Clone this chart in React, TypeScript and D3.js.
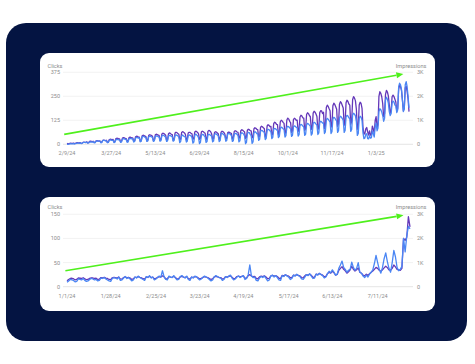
import React from 'react';
import * as d3 from 'd3';

// ---- top panel: 2/9/24 .. 2/7/25, one value per day ----
const topStart = '2024-02-09';
const topClicks = [
  0, 0, 1, 2, 3, 2, 2,
  4, 2, 3, 5, 6, 6, 5,
  8, 4, 5, 9, 10, 10, 9,
  11, 6, 7, 12, 13, 12, 11,
  14, 7, 9, 17, 18, 17, 16,
  17, 8, 9, 19, 21, 20, 18,
  18, 8, 10, 21, 23, 22, 20,
  21, 9, 11, 24, 26, 25, 23,
  23, 10, 12, 27, 29, 28, 26,
  25, 10, 12, 29, 31, 30, 28,
  29, 12, 15, 33, 36, 35, 32,
  33, 13, 16, 39, 42, 40, 37,
  34, 15, 18, 39, 42, 41, 38,
  36, 15, 19, 41, 44, 43, 40,
  38, 16, 19, 44, 47, 46, 42,
  37, 15, 18, 43, 47, 45, 42,
  39, 16, 20, 46, 49, 47, 44,
  37, 9, 15, 44, 49, 43, 40,
  38, 12, 16, 45, 49, 47, 44,
  36, 6, 12, 47, 53, 49, 44,
  35, 4, 10, 46, 51, 52, 44,
  39, 10, 14, 48, 52, 50, 46,
  42, 13, 17, 51, 55, 53, 49,
  43, 14, 19, 55, 58, 54, 49,
  44, 16, 20, 53, 57, 55, 51,
  45, 15, 19, 53, 57, 56, 51,
  46, 13, 18, 55, 60, 58, 53,
  44, 3, 10, 56, 62, 61, 52,
  46, 5, 12, 60, 66, 63, 55,
  57, 20, 26, 68, 73, 71, 65,
  62, 25, 31, 73, 78, 76, 70,
  67, 30, 36, 78, 83, 81, 75,
  73, 35, 41, 84, 89, 87, 81,
  77, 38, 45, 89, 94, 91, 86,
  80, 41, 47, 91, 96, 94, 88,
  86, 43, 50, 98, 104, 101, 95,
  90, 46, 53, 103, 109, 106, 100,
  95, 48, 56, 109, 115, 112, 105,
  100, 51, 59, 113, 120, 117, 110,
  111, 56, 65, 127, 135, 131, 123,
  115, 56, 66, 132, 141, 137, 128,
  121, 62, 71, 138, 146, 142, 134,
  124, 62, 72, 142, 151, 147, 138,
  133, 67, 77, 153, 162, 157, 148,
  117, 46, 56, 136, 146, 141, 125,
  60, 30, 32, 52, 55, 30, 28,
  45, 32, 35, 70, 55, 38, 90,
  110, 70, 85, 170, 185, 180, 168,
  150, 120, 135, 230, 245, 235, 215,
  170, 150, 160, 215, 225, 220, 205,
  200, 165, 180, 300, 318, 310, 285,
  230, 170, 185, 310, 326, 300, 250,
  190,
];
const topImpressions = [
  35, 19, 22, 39, 43, 41, 37,
  52, 31, 35, 60, 65, 61, 57,
  70, 40, 45, 80, 86, 82, 76,
  104, 60, 68, 118, 127, 121, 112,
  125, 80, 88, 140, 149, 143, 134,
  140, 81, 92, 160, 170, 163, 152,
  170, 80, 95, 196, 210, 203, 188,
  205, 100, 118, 238, 252, 244, 226,
  222, 102, 120, 258, 274, 265, 245,
  240, 122, 142, 278, 295, 285, 266,
  270, 121, 146, 315, 336, 325, 300,
  300, 123, 150, 352, 378, 366, 338,
  320, 143, 170, 372, 398, 386, 360,
  335, 144, 172, 392, 420, 407, 378,
  370, 165, 196, 430, 461, 447, 415,
  380, 160, 190, 440, 475, 455, 420,
  400, 165, 200, 468, 503, 487, 452,
  420, 185, 220, 490, 524, 508, 472,
  410, 180, 212, 470, 500, 495, 462,
  440, 205, 240, 510, 545, 528, 492,
  438, 206, 238, 508, 543, 527, 490,
  460, 200, 238, 540, 580, 560, 515,
  425, 206, 237, 490, 523, 508, 475,
  440, 205, 240, 508, 544, 528, 491,
  425, 222, 250, 480, 510, 498, 470,
  460, 227, 262, 530, 565, 548, 512,
  495, 247, 285, 568, 607, 588, 550,
  510, 248, 288, 588, 627, 608, 568,
  560, 268, 312, 646, 690, 670, 625,
  610, 290, 338, 705, 752, 730, 682,
  660, 310, 362, 763, 815, 790, 738,
  750, 372, 430, 862, 920, 892, 835,
  822, 414, 475, 940, 1003, 972, 912,
  870, 450, 505, 1010, 1090, 1050, 960,
  905, 497, 558, 1025, 1086, 1055, 995,
  1005, 538, 608, 1140, 1212, 1176, 1105,
  1090, 580, 655, 1240, 1316, 1278, 1200,
  1148, 620, 700, 1300, 1378, 1340, 1262,
  1160, 610, 690, 1320, 1400, 1390, 1280,
  1335, 663, 760, 1530, 1628, 1580, 1480,
  1400, 705, 808, 1608, 1712, 1660, 1560,
  1460, 746, 852, 1670, 1775, 1722, 1618,
  1515, 788, 896, 1730, 1836, 1784, 1678,
  1630, 830, 945, 1865, 1983, 1925, 1808,
  1450, 622, 735, 1640, 1752, 1700, 1500,
  720, 420, 450, 640, 700, 520, 380,
  560, 380, 420, 760, 640, 450, 1000,
  1150, 700, 820, 2000, 2190, 2120, 1980,
  1700, 1150, 1280, 2080, 2250, 2180, 2020,
  1650, 1300, 1400, 1980, 2050, 1990, 1880,
  1750, 1380, 1500, 2300, 2450, 2400, 2250,
  1850, 1400, 1520, 2350, 2420, 2200, 1900,
  1360,
];
const topDateTicks = ['2/9/24', '3/27/24', '5/13/24', '6/29/24', '8/15/24', '10/1/24', '11/17/24', '1/3/25'];
const topClickTicks = [0, 125, 250, 375];
const topArrow = [{ date: '2024-02-06', clicks: 52 }, { date: '2025-02-01', clicks: 366 }];

// ---- bottom panel: 1/1/24 .. 7/31/24 ----
const bottomStart = '2024-01-01';
const bottomClicks = [
  9, 12, 15, 14, 13, 10, 11,
  16, 15, 14, 17, 13, 11, 12,
  15, 17, 16, 14, 15, 12, 13,
  18, 17, 19, 16, 14, 12, 11,
  17, 19, 18, 16, 20, 13, 14,
  18, 21, 17, 19, 16, 12, 14,
  20, 18, 22, 19, 17, 15, 13,
  21, 19, 23, 18, 20, 14, 16,
  19, 22, 20, 33, 21, 15, 14,
  22, 20, 19, 23, 18, 14, 15,
  21, 23, 20, 18, 22, 15, 13,
  20, 18, 22, 21, 17, 14, 16,
  19, 22, 20, 18, 15, 12, 14,
  20, 23, 21, 19, 18, 13, 15,
  21, 19, 22, 24, 18, 14, 16,
  20, 22, 19, 21, 23, 15, 17,
  25, 45, 22, 19, 20, 13, 12,
  18, 21, 19, 22, 17, 12, 14,
  22, 24, 20, 23, 19, 14, 13,
  23, 21, 25, 22, 20, 15, 17,
  24, 22, 26, 23, 21, 16, 15,
  20, 25, 23, 27, 22, 17, 18,
  26, 24, 28, 25, 23, 18, 20,
  27, 32, 29, 35, 30, 24, 26,
  38, 45, 53, 40, 36, 30, 34,
  36, 51, 40, 34, 38, 50, 30,
  28, 22, 19, 24, 20, 26, 30,
  35, 48, 65, 50, 36, 28, 40,
  58, 70, 52, 38, 30, 50, 75,
  62, 40, 33, 36, 42, 100, 72,
  105, 125, 120,
];
const bottomImpressions = [
  250, 300, 340, 350, 330, 280, 300,
  360, 350, 340, 370, 330, 290, 300,
  350, 370, 360, 340, 350, 300, 310,
  380, 370, 390, 360, 340, 300, 290,
  370, 390, 380, 360, 400, 310, 320,
  380, 410, 370, 390, 360, 300, 320,
  400, 380, 420, 390, 370, 330, 310,
  410, 390, 430, 380, 400, 320, 340,
  390, 420, 400, 450, 410, 330, 320,
  420, 400, 390, 430, 380, 320, 330,
  410, 430, 400, 380, 420, 330, 310,
  400, 380, 420, 410, 370, 320, 340,
  390, 420, 400, 380, 340, 300, 320,
  410, 430, 410, 390, 380, 310, 330,
  420, 400, 430, 450, 390, 330, 350,
  420, 440, 410, 430, 450, 350, 370,
  460, 500, 440, 420, 430, 340, 330,
  410, 440, 420, 450, 400, 330, 350,
  450, 470, 440, 460, 420, 350, 340,
  470, 450, 490, 460, 440, 370, 390,
  480, 460, 500, 470, 450, 380, 370,
  450, 500, 480, 520, 470, 390, 400,
  520, 500, 540, 510, 480, 410, 430,
  540, 600, 560, 640, 580, 480, 510,
  680, 760, 830, 720, 660, 560, 620,
  700, 850, 720, 650, 700, 780, 600,
  560, 480, 450, 520, 470, 540, 600,
  650, 720, 800, 760, 680, 640, 700,
  780, 850, 790, 700, 680, 760, 900,
  820, 720, 700, 680, 760, 2000, 1920,
  2050, 2900, 2480,
];
const bottomDateTicks = ['1/1/24', '1/28/24', '2/25/24', '3/23/24', '4/19/24', '5/17/24', '6/13/24', '7/11/24'];
const bottomClickTicks = [0, 50, 100, 150];
const bottomArrow = [{ date: '2023-12-31', clicks: 33 }, { date: '2024-07-27', clicks: 148 }];

const impressionTicks = [0, 1000, 2000, 3000];
const impressionLabels = ['0', '1K', '2K', '3K'];

const parseDay = d3.timeParse('%Y-%m-%d');
const parseTick = d3.timeParse('%m/%d/%y');

const NAVY = '#041442';
const GREEN = '#4ff01c';
const BLUE = '#4a86f4';
const PURPLE = '#6437b9';
const GREY = '#8c8c8c';
const FONT = 'Roboto, "Noto Sans", sans-serif';

interface PanelProps {
  cardY: number;
  top: number;
  bottom: number;
  dataRight: number;
  titleY: number;
  xLabelY: number;
  start: string;
  clicks: number[];
  impressions: number[];
  clickTicks: number[];
  dateTicks: string[];
  arrow: { date: string; clicks: number }[];
}

const Panel: React.FC<PanelProps> = (p) => {
  const t0 = parseDay(p.start) as Date;
  const dates = p.clicks.map((_, i) => d3.timeDay.offset(t0, i));
  const x = d3.scaleTime().domain([t0, dates[dates.length - 1]]).range([67, p.dataRight]);
  const clickMax = p.clickTicks[p.clickTicks.length - 1];
  const yC = d3.scaleLinear().domain([0, clickMax]).range([p.bottom, p.top]);
  const yI = d3.scaleLinear().domain([0, 3000]).range([p.bottom, p.top]);

  const clickLine = d3.line<number>().x((_, i) => x(dates[i])).y((d) => yC(d));
  const imprLine = d3.line<number>().x((_, i) => x(dates[i])).y((d) => yI(d));

  // arrow in data coordinates
  const ax0 = x(parseDay(p.arrow[0].date) as Date);
  const ay0 = yC(p.arrow[0].clicks);
  const ax1 = x(parseDay(p.arrow[1].date) as Date);
  const ay1 = yC(p.arrow[1].clicks);
  const ang = Math.atan2(ay1 - ay0, ax1 - ax0);
  const headLen = 7;
  const headW = 3;
  const bx = ax1 - headLen * Math.cos(ang);
  const by = ay1 - headLen * Math.sin(ang);
  const head = [
    [ax1, ay1],
    [bx + headW * Math.sin(ang), by - headW * Math.cos(ang)],
    [bx - headW * Math.sin(ang), by + headW * Math.cos(ang)],
  ].map((q) => q.join(',')).join(' ');

  return (
    <g>
      <rect x={40} y={p.cardY} width={395} height={114} rx={9} fill="#fff" />
      <text x={47.5} y={p.titleY} fontSize={5.6} fill={GREY}>Clicks</text>
      <text x={426.5} y={p.titleY} fontSize={5.6} fill={GREY} textAnchor="end">Impressions</text>
      {p.clickTicks.map((t, i) => (
        <g key={t}>
          <line x1={63} x2={413} y1={yC(t)} y2={yC(t)} stroke={t === 0 ? '#dedede' : '#efefef'} strokeWidth={0.8} />
          <text x={60} y={yC(t) + 2} fontSize={5.5} fill={GREY} textAnchor="end">{t}</text>
          <text x={417} y={yI(impressionTicks[i]) + 2} fontSize={5.5} fill={GREY}>{impressionLabels[i]}</text>
        </g>
      ))}
      {p.dateTicks.map((s) => (
        <text key={s} x={x(parseTick(s) as Date)} y={p.xLabelY} fontSize={5.5} fill={GREY} textAnchor="middle">{s}</text>
      ))}
      <path d={imprLine(p.impressions) || ''} fill="none" stroke={PURPLE} strokeWidth={1.3} strokeLinejoin="round" />
      <path d={clickLine(p.clicks) || ''} fill="none" stroke={BLUE} strokeWidth={1.3} strokeLinejoin="round" />
      <line x1={ax0} y1={ay0} x2={bx} y2={by} stroke={GREEN} strokeWidth={1.7} />
      <polygon points={head} fill={GREEN} />
    </g>
  );
};

const App: React.FC = () => (
  <svg
    width={475}
    height={364}
    style={{ position: 'absolute', left: 0, top: 0, fontFamily: FONT }}
  >
    <rect x={0} y={0} width={475} height={364} fill="#fff" />
    <rect x={6} y={23} width={461} height={318} rx={20} fill={NAVY} />
    <Panel
      cardY={53}
      top={72.3}
      bottom={144.3}
      dataRight={409}
      titleY={67.5}
      xLabelY={155}
      start={topStart}
      clicks={topClicks}
      impressions={topImpressions}
      clickTicks={topClickTicks}
      dateTicks={topDateTicks}
      arrow={topArrow}
    />
    <Panel
      cardY={197}
      top={214.3}
      bottom={286.7}
      dataRight={410}
      titleY={208.5}
      xLabelY={297.5}
      start={bottomStart}
      clicks={bottomClicks}
      impressions={bottomImpressions}
      clickTicks={bottomClickTicks}
      dateTicks={bottomDateTicks}
      arrow={bottomArrow}
    />
  </svg>
);

export default App;
